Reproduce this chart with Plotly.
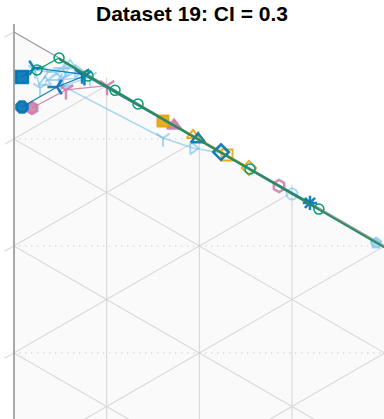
import plotly.graph_objects as go
import math

# Ternary compositions in percent (b = bottom-left weight, c = right weight, a = 100-b-c)
dark_b = [3.78, 2.28, 0.26, 0.10, 0.05, 0.00]
dark_c = [0.86, 2.16, 7.34, 19.86, 22.34, 31.94]
dark_sym = ["square", "y-right-open", "y-down-open", "triangle-up-open", "diamond-open", "asterisk-open"]

dark2_b = [6.58, 2.82, 0.30]
dark2_c = [0.86, 4.64, 7.60]
dark2_sym = ["octagon", "y-left-open", "y-down-open"]

pink_b = [6.13, 2.61, 0.00, 0.10, 0.09]
pink_c = [1.94, 5.61, 10.04, 17.27, 28.60]
pink_sym = ["hexagon", "y-down-open", "y-down-open", "triangle-up", "hexagon-open"]

orange_b = [0.28, 0.00, 0.00, 0.03]
orange_c = [16.08, 19.32, 22.99, 25.36]
orange_sym = ["square", "triangle-up-open", "square-open", "diamond-open"]

green_b = [2.31, 0.00, 0.11, 0.00, 0.04, 0.07, 0.10]
green_c = [2.48, 4.86, 7.99, 10.90, 13.38, 25.47, 32.90]

light_b = [3.83, 2.42, 1.91, 0.77, 3.00, 0.10, 1.66, 0.20, 2.12, 0.10, 2.41,
           1.87, 1.18, 0.14, 0.14, 0.19]
light_c = [2.81, 2.27, 3.67, 5.18, 3.35, 6.04, 5.29, 6.90, 4.75, 8.20, 5.29,
           16.08, 19.32, 22.34, 30.00, 39.07]
light_sym = ["y-down-open", "y-down-open", "y-right-open", "y-left-open", "triangle-up-open",
             "triangle-up-open", "y-down-open", "triangle-right-open", "y-left-open",
             "y-down-open", "y-right-open", "y-down-open", "triangle-right-open",
             "diamond-open", "circle-open", "pentagon"]

trend_b = [0.10, 0.15]
trend_c = [4.86, 45.0]

grid_ticks = [10, 20, 30, 40, 50, 60, 70, 80, 90]

C30 = math.cos(math.radians(30))


def to_xy(b, c):
    xs = [C30 * ci / 100 for ci in c]
    ys = [-(bi + 0.5 * ci) / 100 for bi, ci in zip(b, c)]
    return xs, ys


fig = go.Figure()

shapes = []
shapes.append(dict(type="path", xref="x", yref="y",
                   path=f"M 0 0 L 0 -1 L {C30} -0.5 Z",
                   fillcolor="#fafafa", line=dict(width=0), layer="below"))
grid = dict(color="#dadada", width=1.2)
ext = 0.0075
for k in grid_ticks:
    s = k / 100
    shapes.append(dict(type="line", xref="x", yref="y", x0=C30 * s, x1=C30 * s,
                       y0=-0.5 * s + ext, y1=-1 + 0.5 * s, line=grid, layer="below"))
    shapes.append(dict(type="line", xref="x", yref="y", x0=0, y0=-s,
                       x1=C30 * (1 - s), y1=-(s + 0.5 * (1 - s)), line=grid, layer="below"))
    shapes.append(dict(type="line", xref="x", yref="y", x0=-C30 * 0.01, y0=-(s + 0.005),
                       x1=C30 * s, y1=-0.5 * s, line=grid, layer="below"))
shapes.append(dict(type="line", xref="x", yref="y", x0=-C30 * 0.01, y0=-0.005, x1=0, y1=0,
                   line=grid, layer="below"))
for k in [10, 20, 30]:
    s = k / 100
    shapes.append(dict(type="line", xref="x", yref="y", x0=0.005, x1=min(2 * C30 * s, 0.9),
                       y0=-s, y1=-s, line=dict(color="#b8b8b8", width=1.2, dash="1px,5px"),
                       layer="below"))
shapes.append(dict(type="line", xref="x", yref="y", x0=0, x1=0, y0=ext, y1=-1,
                   line=dict(color="#a0a0a0", width=1.8), layer="below"))
shapes.append(dict(type="line", xref="x", yref="y", x0=0, y0=0, x1=C30, y1=-0.5,
                   line=dict(color="#9a9a9a", width=1.3), layer="below"))


def add(b, c, color, sym, size=10, width=1.5, lw=1.2, mode="lines+markers"):
    xs, ys = to_xy(b, c)
    fig.add_trace(go.Scatter(x=xs, y=ys, mode=mode,
                             line=dict(color=color, width=lw),
                             marker=dict(symbol=sym, size=size, color=color,
                                         line=dict(color=color, width=width)),
                             hoverinfo="skip", showlegend=False))


add(light_b, light_c, "rgba(86,180,233,0.5)", light_sym, size=11, width=2, lw=1.5)
add(pink_b, pink_c, "rgba(204,121,167,0.85)", pink_sym, size=12, width=2.5, lw=1.3)
add(orange_b, orange_c, "rgba(230,159,0,0.85)", orange_sym, size=11, width=2, lw=1.3)
add(dark2_b, dark2_c, "rgba(0,114,178,0.9)", dark2_sym, size=12, width=2.5, lw=1.3)
add(dark_b, dark_c, "rgba(0,114,178,0.9)", dark_sym, size=12, width=2.5, lw=1.3)
add(green_b, green_c, "#009E73", "circle-open", size=10, width=1.5, lw=1.2)
xs, ys = to_xy(trend_b, trend_c)
fig.add_trace(go.Scatter(x=xs, y=ys, mode="lines", line=dict(color="#2e8a5c", width=2),
                         hoverinfo="skip", showlegend=False))

fig.update_layout(
    width=384, height=419,
    margin=dict(l=0, r=0, t=0, b=0),
    paper_bgcolor="white", plot_bgcolor="white",
    xaxis=dict(range=[-14 / 1070, 370 / 1070], visible=False, fixedrange=True),
    yaxis=dict(range=[-387 / 1070, 32 / 1070], visible=False, fixedrange=True),
    shapes=shapes,
    title=dict(text="<b>Dataset 19: CI = 0.3</b>", x=0.5, xanchor="center",
               y=1 - 14 / 419, yanchor="middle",
               font=dict(family="Liberation Sans, Arial, sans-serif", size=21, color="black")),
)

fig.write_html("out.html", config={"displayModeBar": False},
               post_script="document.body.style.margin='0';document.body.style.overflow='hidden';")
